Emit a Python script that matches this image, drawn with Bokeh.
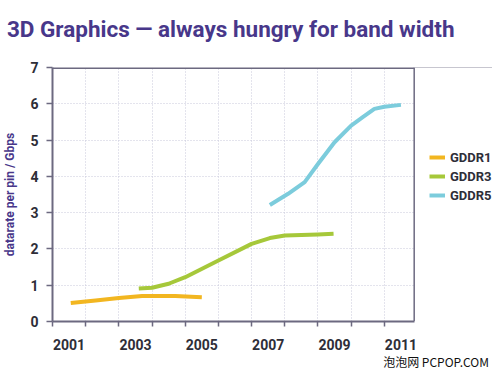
from bokeh.plotting import figure
from bokeh.models import (FixedTicker, Legend, LegendItem, Range1d, Span,
                          BoxAnnotation, LinearAxis)
from bokeh.embed import file_html
from bokeh.resources import INLINE

# ---- data ----
gddr1_x = [2001.55, 2002.3, 2003.0, 2003.7, 2004.7, 2005.5]
gddr1_y = [0.51, 0.58, 0.65, 0.70, 0.70, 0.67]

gddr3_x = [2003.6, 2004.0, 2004.5, 2005.0, 2006.0, 2007.0, 2007.55, 2008.0, 2009.0, 2009.47]
gddr3_y = [0.91, 0.93, 1.04, 1.22, 1.68, 2.14, 2.30, 2.37, 2.40, 2.42]

gddr5_x = [2007.55, 2008.1, 2008.6, 2009.0, 2009.5, 2010.0, 2010.35, 2010.7, 2011.0, 2011.5]
gddr5_y = [3.21, 3.52, 3.84, 4.34, 4.94, 5.40, 5.63, 5.86, 5.92, 5.97]

year_labels = ["2001", "2003", "2005", "2007", "2009", "2011"]
year_bounds = list(range(2001, 2012))
y_ticks = [0, 1, 2, 3, 4, 5, 6, 7]

series_names = ["GDDR1", "GDDR3", "GDDR5"]
series_colors = ["#F2B620", "#A6C83A", "#7CCCDC"]

title_text = "3D Graphics \u2014 always hungry for band width"
watermark = "\u6ce1\u6ce1\u7f51  PCPOP.COM"

# layout constants (not data)
X_START, X_PLOT_END, X_CANVAS_END = 2001, 2011.9, 2014.26
WM_X = 2012.6
TITLE_X = 2006.37

AXIS = "#6C6980"
PURPLE = "#48378A"
TICKTXT = "#2E2E38"

p = figure(width=492, height=375, output_backend="svg", toolbar_location=None,
           x_range=Range1d(X_START, X_CANVAS_END), y_range=Range1d(0, 7),
           min_border_left=50, min_border_right=0, min_border_top=67, min_border_bottom=54)
p.background_fill_color = "white"
p.border_fill_color = "white"
p.outline_line_color = None
p.title.text = ""

# x axis: labels centred in each odd year, ticks at year boundaries
label_pos = [int(y) + 0.5 for y in year_labels]
p.xaxis.ticker = FixedTicker(ticks=label_pos, minor_ticks=year_bounds)
p.xaxis.major_label_overrides = {pos: lab for pos, lab in zip(label_pos, year_labels)}
p.xaxis.bounds = (X_START, X_PLOT_END)
p.xaxis.major_tick_out = 0
p.xaxis.major_tick_in = 0
p.xaxis.minor_tick_out = 5
p.xaxis.minor_tick_in = 0
p.xaxis.minor_tick_line_color = AXIS
p.xaxis.minor_tick_line_width = 1.5
p.xaxis.major_label_standoff = 12
p.xaxis.axis_line_color = AXIS
p.xaxis.axis_line_width = 2
p.xaxis.major_label_text_font = "Roboto"
p.xaxis.major_label_text_font_style = "bold"
p.xaxis.major_label_text_font_size = "14px"
p.xaxis.major_label_text_color = TICKTXT

p.yaxis.ticker = FixedTicker(ticks=y_ticks)
p.yaxis.minor_tick_line_color = None
p.yaxis.major_tick_out = 6
p.yaxis.major_tick_in = 0
p.yaxis.major_tick_line_color = AXIS
p.yaxis.major_tick_line_width = 1.5
p.yaxis.major_label_standoff = 8
p.yaxis.axis_line_color = AXIS
p.yaxis.axis_line_width = 2
p.yaxis.major_label_text_font = "Roboto"
p.yaxis.major_label_text_font_style = "bold"
p.yaxis.major_label_text_font_size = "14px"
p.yaxis.major_label_text_color = TICKTXT
p.yaxis.axis_label = "datarate per pin / Gbps"
p.yaxis.axis_label_text_font = "Roboto"
p.yaxis.axis_label_text_font_style = "bold"
p.yaxis.axis_label_text_font_size = "12px"
p.yaxis.axis_label_text_color = PURPLE
p.yaxis.axis_label_standoff = 10


def text_axis(pos, text, font, size, style, color, standoff):
    return LinearAxis(ticker=FixedTicker(ticks=[pos]),
                      major_label_overrides={pos: text},
                      axis_line_color=None, major_tick_line_color=None,
                      minor_tick_line_color=None, major_tick_out=0, major_tick_in=0,
                      minor_tick_out=0, minor_tick_in=0, major_label_standoff=standoff,
                      major_label_text_font=font, major_label_text_font_size=size,
                      major_label_text_font_style=style, major_label_text_color=color)


# title as a line-less axis above, watermark as a line-less axis below
p.add_layout(text_axis(TITLE_X, title_text, "Roboto", "22.5px", "bold", PURPLE, 26), "above")
p.add_layout(text_axis(WM_X, watermark, "Noto Sans CJK SC", "12px", "normal", "#111111", 0), "below")

p.xgrid.ticker = FixedTicker(ticks=year_bounds)
p.ygrid.ticker = FixedTicker(ticks=y_ticks)
for g in (p.xgrid, p.ygrid):
    g.grid_line_color = "#C9C9DA"
    g.grid_line_dash = "1 2"
    g.grid_line_width = 1

xs = [gddr1_x, gddr3_x, gddr5_x]
ys = [gddr1_y, gddr3_y, gddr5_y]
items = []
for name, col, x, y in zip(series_names, series_colors, xs, ys):
    r = p.line(x, y, line_color=col, line_width=4, line_join="round")
    items.append(LegendItem(label=name, renderers=[r]))

# plot frame: top border, white area to the right, right border
p.add_layout(Span(location=7, dimension="width", line_color=AXIS, line_width=3))
p.add_layout(BoxAnnotation(left=X_PLOT_END, fill_color="white", fill_alpha=1,
                           line_color=None))
p.add_layout(Span(location=X_PLOT_END, dimension="height", line_color=AXIS, line_width=1.5))

legend = Legend(items=items, location=(377, 117), orientation="vertical",
                glyph_width=16, glyph_height=18, label_height=18, label_standoff=5,
                spacing=1, padding=0, margin=0, border_line_color=None,
                background_fill_alpha=0,
                label_text_font="Roboto", label_text_font_style="bold",
                label_text_font_size="13px", label_text_color=TICKTXT)
p.add_layout(legend, "center")

open("out.html", "w").write(file_html(p, INLINE))
